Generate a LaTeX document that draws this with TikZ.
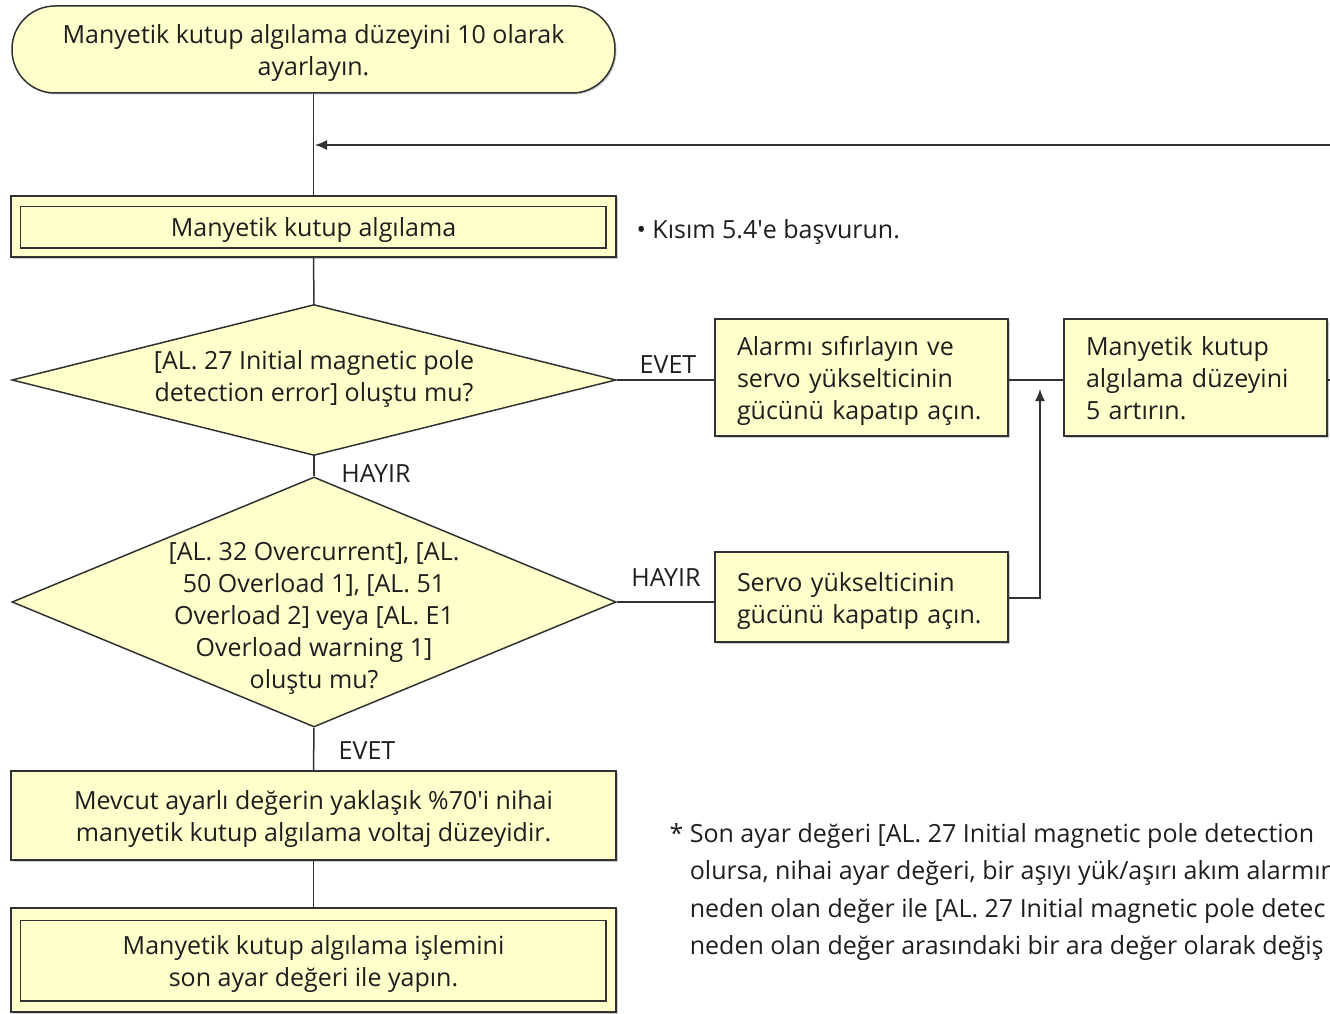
\documentclass[tikz,border=0pt]{standalone}
\usepackage{fontspec}
\setmainfont{Open Sans}
\usetikzlibrary{shapes.geometric,arrows.meta,shadows}
\definecolor{boxfill}{RGB}{255,255,204}
\definecolor{edge}{RGB}{50,50,50}
\definecolor{ink}{RGB}{30,30,30}
\newcommand{\tstr}{\rule{0pt}{26pt}}
\newcommand{\bstr}{\rule[-7pt]{0pt}{7pt}}
\begin{document}
\begin{tikzpicture}[x=1pt,y=-1pt,
  txt/.style={font=\fontsize{25}{32}\selectfont, text=ink},
  box/.style={txt, draw=edge, line width=1.5pt, fill=boxfill, inner sep=0pt, align=center,
    drop shadow={shadow xshift=1.5pt, shadow yshift=-1.5pt, fill=black!35, opacity=.6}},
  lbox/.style={box, align=left, inner xsep=22pt},
  dia/.style={diamond, draw=edge, line width=1.5pt, fill=boxfill, inner sep=0pt, aspect=1},
  conn/.style={draw=edge, line width=1.5pt},
  arr/.style={conn, -{Latex[length=12pt,width=10pt]}},
  lab/.style={txt}
]
\useasboundingbox (0,0) rectangle (1330,1014);
\clip (0,0) rectangle (1330,1014);

% start terminal
\node[box, rounded corners=43pt, minimum width=603pt, minimum height=87pt] (start) at (313.5,49.5)
  {\tstr Manyetik kutup algılama düzeyini 10 olarak\\ayarlayın.};

% predefined process 1
\node[box, minimum width=605pt, minimum height=61pt] (proc1) at (313.5,226.5) {\tstr Manyetik kutup algılama};
\draw[draw=edge, line width=1.5pt] ([shift={(10,11)}]proc1.north west) rectangle ([shift={(-11,-10)}]proc1.south east);
\node[txt, anchor=west] (note) at (633,232) {• Kısım 5.4\textquotesingle e başvurun.};

% decision 1
\node[dia, minimum width=604pt, minimum height=151pt] (d1) at (314,380) {};
\node[txt, align=center] (d1t) at (314,379.5) {[AL. 27 Initial magnetic pole\\detection error] oluştu mu?};

% decision 2
\node[dia, minimum width=604pt, minimum height=250pt] (d2) at (314,602) {};
\node[txt, align=center] (d2t) at (314,618) {[AL. 32 Overcurrent], [AL.\\50 Overload 1], [AL. 51\\Overload 2] veya [AL. E1\\Overload warning 1]\\oluştu mu?};

% right boxes
\node[lbox, text width=249pt, minimum height=117pt] (ba) at (861.5,377.5)
  {\tstr Alarmı sıfırlayın ve\\servo yükselticinin\\gücünü kapatıp açın.};
\node[lbox, text width=219pt, minimum height=117pt] (bb) at (1195.5,377.5)
  {\tstr Manyetik kutup\\algılama düzeyini\\5 artırın.\bstr};
\node[lbox, text width=249pt, minimum height=90pt] (bc) at (861.5,597)
  {\tstr Servo yükselticinin\\gücünü kapatıp açın.};

% bottom boxes
\node[box, minimum width=605pt, minimum height=89pt] (bm) at (313.5,815.5)
  {\tstr Mevcut ayarlı değerin yaklaşık \%70\textquotesingle i nihai\\manyetik kutup algılama voltaj düzeyidir.};
\node[box, minimum width=605pt, minimum height=104pt] (proc2) at (313.5,960)
  {\tstr Manyetik kutup algılama işlemini\\son ayar değeri ile yapın.};
\draw[draw=edge, line width=1.5pt] ([shift={(10,13)}]proc2.north west) rectangle ([shift={(-11,-12)}]proc2.south east);

% footnote (cut by the right edge, as in the reference)
\node[txt, font=\fontsize{25}{37.5}\selectfont, anchor=west, align=left] (fn) at (666,892)
  {* Son ayar değeri [AL. 27 Initial magnetic pole detection\\
   \hphantom{* }olursa, nihai ayar değeri, bir aşıyı yük/aşırı akım alarmın\\
   \hphantom{* }neden olan değer ile [AL. 27 Initial magnetic pole detec\\
   \hphantom{* }neden olan değer arasındaki bir ara değer olarak değiş};

% coordinates
\coordinate (loopin) at (1330,145);
\coordinate (looptip) at (315,145);
\coordinate (bbout) at (1330,380);
\coordinate (join) at (1040,389);

% connectors
\draw[conn] (start.south) -- (proc1.north);
\draw[arr] (loopin) -- (looptip);
\draw[conn] (proc1.south) -- (d1.north);
\draw[conn] (d1.south) -- (d2.north);
\draw[conn] (d1.east) -- (ba.west |- d1.east);
\draw[conn] (ba.east |- d1.east) -- (bb.west |- d1.east);
\draw[conn] (bb.east |- d1.east) -- (bbout);
\draw[conn] (d2.east) -- (bc.west |- d2.east);
\draw[arr] (bc.east |- 0,598) -| (join);
\draw[conn] (d2.south) -- (bm.north);
\draw[conn] (bm.south) -- (proc2.north);

% labels
\node[lab] (l1) at (668,365) {EVET};
\node[lab] (l2) at (376,474) {HAYIR};
\node[lab] (l3) at (666,578) {HAYIR};
\node[lab] (l4) at (367,751) {EVET};
\end{tikzpicture}
\end{document}
